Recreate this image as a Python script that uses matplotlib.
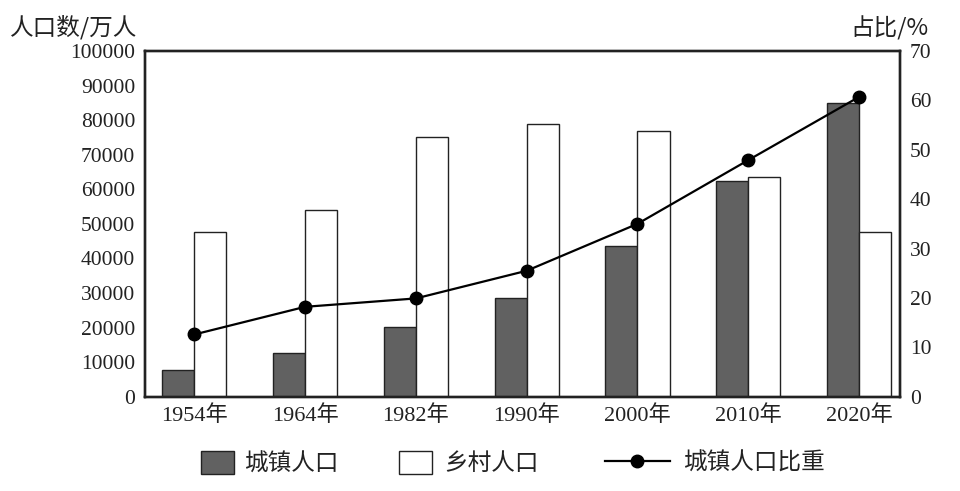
import matplotlib
matplotlib.use("Agg")
import matplotlib.pyplot as plt
from matplotlib.patches import Patch
from matplotlib.lines import Line2D
import numpy as np

plt.rcParams['font.family'] = ['Liberation Serif', 'Noto Sans CJK SC', 'DejaVu Sans']

years = ["1954年", "1964年", "1982年", "1990年", "2000年", "2010年", "2020年"]
urban = [7700, 12500, 20200, 28500, 43600, 62500, 84900]
rural = [47600, 53900, 75200, 78800, 76900, 63500, 47600]
urban_share = [12.6, 18.2, 19.9, 25.5, 35.0, 47.9, 60.7]

y_left_ticks = [0, 10000, 20000, 30000, 40000, 50000, 60000, 70000, 80000, 90000, 100000]
y_right_ticks = [0, 10, 20, 30, 40, 50, 60, 70]

fig = plt.figure(figsize=(9.6, 4.91), dpi=100)
ax = fig.add_axes([145/960, 1 - 396.7/491, (900-145)/960, (396.7-51)/491])
ax2 = ax.twinx()

x = np.arange(len(years))
w = 0.29
dark = "#616161"
edge = "#222222"
ax.bar(x - w/2, urban, width=w, color=dark, edgecolor=edge, linewidth=1.0, zorder=2)
ax.bar(x + w/2, rural, width=w, color="white", edgecolor=edge, linewidth=1.0, zorder=2)
ax.set_xlim(-0.445, 6.37)
ax.set_ylim(0, 100000)
ax.set_yticks(y_left_ticks)
ax.set_yticklabels([str(v) for v in y_left_ticks])
ax.set_xticks(x)
ax.set_xticklabels(years)

ax2.plot(x, urban_share, color="black", lw=1.6, marker="o", ms=9, zorder=3)
ax2.set_ylim(0, 70)
ax2.set_yticks(y_right_ticks)

for a in (ax, ax2):
    a.tick_params(length=0, labelsize=15.5, colors="#222222", pad=7)
    for s in a.spines.values():
        s.set_linewidth(1.7)
        s.set_color("#222222")
ax.tick_params(axis='x', pad=6, labelsize=16)

fig.text(10/960, 1 - 27/491, "人口数/万人", fontsize=17, ha="left", va="center",
         family=['Noto Sans CJK SC', 'DejaVu Sans'], color="#222222")
fig.text(928/960, 1 - 28/491, "占比/%", fontsize=17, ha="right", va="center",
         family=['Noto Sans CJK SC', 'DejaVu Sans'], color="#222222")

lfont = {'family': ['Noto Sans CJK SC', 'DejaVu Sans'], 'size': 17}
h1 = Patch(facecolor=dark, edgecolor=edge, linewidth=1.0)
h2 = Patch(facecolor="white", edgecolor=edge, linewidth=1.0)
h3 = Line2D([], [], color="black", lw=1.6, marker="o", ms=9)
yc = 1 - 463/491
l1 = fig.legend([h1], ["城镇人口"], loc="center left", bbox_to_anchor=(201/960, yc),
                frameon=False, prop=lfont, borderpad=0, borderaxespad=0,
                handlelength=1.4, handleheight=1.15, handletextpad=0.42)
l2 = fig.legend([h2], ["乡村人口"], loc="center left", bbox_to_anchor=(399/960, yc),
                frameon=False, prop=lfont, borderpad=0, borderaxespad=0,
                handlelength=1.4, handleheight=1.15, handletextpad=0.5)
l3 = fig.legend([h3], ["城镇人口比重"], loc="center left", bbox_to_anchor=(605/960, yc),
                frameon=False, prop=lfont, borderpad=0, borderaxespad=0,
                handlelength=2.75, handletextpad=0.55)
for l in (l1, l2, l3):
    for t in l.get_texts():
        t.set_color("#222222")

fig.savefig("out.png", dpi=100, facecolor="white")
